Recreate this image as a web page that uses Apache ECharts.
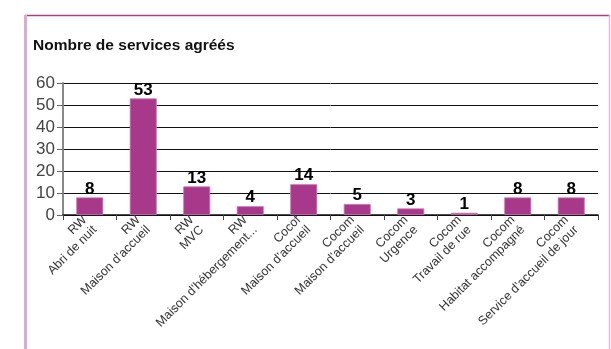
<!DOCTYPE html>
<html><head><meta charset="utf-8">
<script src="https://cdn.jsdelivr.net/npm/echarts@6/dist/echarts.min.js"></script>
<style>html,body{margin:0;padding:0;background:#fff;}#c{width:611px;height:349px;}</style>
</head><body><div id="c"></div>
<script>
const categories = [
  "RW\nAbri de nuit",
  "RW\nMaison d'accueil",
  "RW\nMVC",
  "RW\nMaison d'hébergement...",
  "Cocof\nMaison d'accueil",
  "Cocom\nMaison d'accueil",
  "Cocom\nUrgence",
  "Cocom\nTravail de rue",
  "Cocom\nHabitat accompagné",
  "Cocom\nService d'accueil de jour"
];
const values = [8, 53, 13, 4, 14, 5, 3, 1, 8, 8];
const yTicks = [0, 10, 20, 30, 40, 50, 60];

const chart = echarts.init(document.getElementById('c'));
chart.setOption({
  animation: false,
  title: {
    text: "Nombre de services agréés",
    left: 33, top: 38, padding: 0,
    textStyle: {fontFamily: "Liberation Sans", fontWeight: "bold", fontSize: 15.5, color: "#111"}
  },
  graphic: [
    {type: 'line', shape: {x1: 25, y1: 15.5, x2: 610, y2: 15.5}, style: {stroke: '#a8407f', lineWidth: 1.5}},
    {type: 'line', shape: {x1: 25.5, y1: 15, x2: 25.5, y2: 349}, style: {stroke: '#dcaad3', lineWidth: 3}},
    {type: 'line', shape: {x1: 609.5, y1: 15, x2: 609.5, y2: 349}, style: {stroke: '#e6b6df', lineWidth: 1.5}}
  ],
  grid: {left: 63, right: 13, top: 83, bottom: 134, containLabel: false},
  xAxis: {
    type: 'category',
    data: categories,
    axisLine: {lineStyle: {color: '#111', width: 1.5}},
    axisTick: {show: true, length: 5, lineStyle: {color: '#444'}},
    axisLabel: {rotate: 45, interval: 0, fontFamily: "Liberation Sans", fontSize: 12.5, color: '#333', margin: 8, lineHeight: 14}
  },
  yAxis: {
    type: 'value',
    min: yTicks[0], max: yTicks[yTicks.length - 1], interval: 10,
    axisLine: {show: true, lineStyle: {color: '#888', width: 2}},
    axisTick: {show: true, length: 6, lineStyle: {color: '#666'}},
    axisLabel: {fontFamily: "Liberation Sans", fontSize: 17, color: '#444', margin: 8},
    splitLine: {lineStyle: {color: '#111', width: 1}}
  },
  series: [{
    type: 'bar',
    data: values,
    barWidth: 27,
    itemStyle: {color: '#a8398a', borderColor: '#c978b4', borderWidth: 0.8},
    label: {show: true, position: 'top', distance: 0, fontFamily: "Liberation Sans", fontWeight: 'bold', fontSize: 17, color: '#000'}
  }]
});
</script></body></html>
